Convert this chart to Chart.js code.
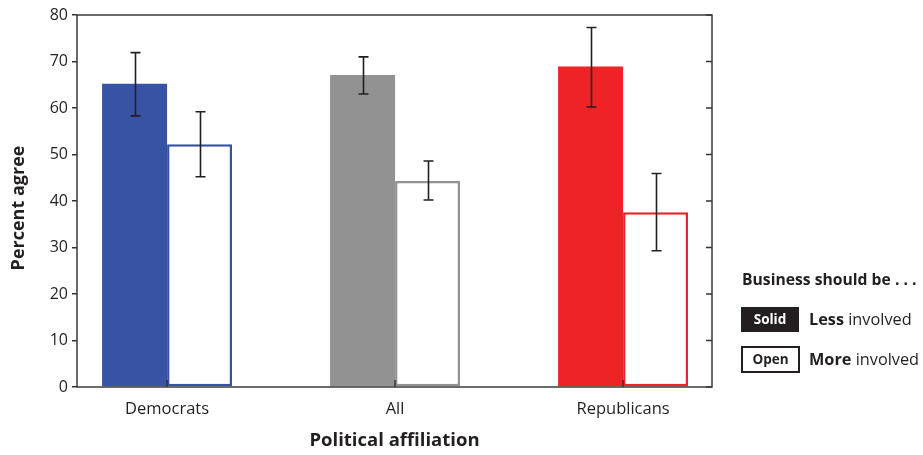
<!DOCTYPE html>
<html>
<head>
<meta charset="utf-8">
<script src="https://cdn.jsdelivr.net/npm/chart.js@4/dist/chart.umd.min.js"></script>
<style>
  html, body { margin: 0; padding: 0; background: #fff; }
  #wrap { position: relative; width: 923px; height: 455px; font-family: "Open Sans", sans-serif; color: #231f20; }
  #c { position: absolute; left: 0; top: 0; }
  .key-title { position: absolute; left: 742px; top: 268px; height: 22px; line-height: 22px; font-size: 15.7px; font-weight: 700; white-space: nowrap; }
  .swatch { position: absolute; left: 741px; box-sizing: border-box; font-size: 13.5px; font-weight: 700; text-align: center; }
  .swatch.solid { top: 307px; width: 58px; height: 25px; line-height: 25px; background: #231f20; color: #fff; }
  .swatch.open { top: 346px; width: 59px; height: 27px; line-height: 23px; border: 2px solid #231f20; background: #fff; color: #231f20; }
  .key-text { position: absolute; left: 809px; font-size: 16.3px; white-space: nowrap; }
  .key-text b { font-weight: 700; }
</style>
</head>
<body>
<div id="wrap">
  <canvas id="c" width="923" height="455"></canvas>
  <div class="key-title">Business should be . . .</div>
  <div class="swatch solid">Solid</div>
  <div class="key-text" style="top:308px;line-height:22px;"><b>Less</b> involved</div>
  <div class="swatch open">Open</div>
  <div class="key-text" style="top:348px;line-height:22px;"><b>More</b> involved</div>
</div>
<script>
// Groups along the x axis
const categories = ['Democrats', 'All', 'Republicans'];

// "Business should be less involved" (solid bars), percent agree
const lessInvolved = [65.2, 67.1, 68.9];
const lessLow = [58.3, 63.0, 60.2];
const lessHigh = [71.9, 71.0, 77.3];

// "Business should be more involved" (open bars), percent agree
const moreInvolved = [52.2, 44.3, 37.6];
const moreLow = [45.2, 40.2, 29.3];
const moreHigh = [59.2, 48.6, 45.9];

// Y axis ticks
const yTicks = [0, 10, 20, 30, 40, 50, 60, 70, 80];

const groupColors = ['#3953a4', '#929292', '#ee2325'];
const ink = '#231f20';

const toPoints = vals => vals.map((v, i) => ({ x: i, y: v }));

// Frame, inner tick marks, error bars and the y-axis title
const decorations = {
  id: 'decorations',
  afterDatasetsDraw(chart) {
    const { ctx, chartArea: a, scales: { x, y } } = chart;
    ctx.save();

    // error bars
    const ranges = [[lessLow, lessHigh], [moreLow, moreHigh]];
    ctx.strokeStyle = ink;
    ctx.lineWidth = 1.6;
    ranges.forEach(([lo, hi], d) => {
      chart.getDatasetMeta(d).data.forEach((bar, i) => {
        const cx = Math.round(bar.x) + 0.5;
        const yLo = y.getPixelForValue(lo[i]);
        const yHi = y.getPixelForValue(hi[i]);
        ctx.beginPath();
        ctx.moveTo(cx, yLo); ctx.lineTo(cx, yHi);
        ctx.moveTo(cx - 5, yHi); ctx.lineTo(cx + 5, yHi);
        ctx.moveTo(cx - 5, yLo); ctx.lineTo(cx + 5, yLo);
        ctx.stroke();
      });
    });

    // inner ticks on the right edge
    ctx.strokeStyle = '#333';
    ctx.lineWidth = 1.5;
    yTicks.forEach(v => {
      const py = y.getPixelForValue(v);
      ctx.beginPath();
      ctx.moveTo(a.right - 6, py); ctx.lineTo(a.right, py);
      ctx.stroke();
    });

    // inner ticks at each group centre on the bottom edge
    categories.forEach((c, i) => {
      const px = x.getPixelForValue(i);
      ctx.beginPath();
      ctx.moveTo(px, a.bottom); ctx.lineTo(px, a.bottom - 7);
      ctx.stroke();
    });

    // plot frame
    ctx.strokeStyle = '#3a3a3a';
    ctx.lineWidth = 1.5;
    ctx.strokeRect(a.left, a.top, a.right - a.left, a.bottom - a.top);

    // y-axis title, set slightly below the middle of the plot
    ctx.translate(19, (a.top + a.bottom) / 2 + 7);
    ctx.rotate(-Math.PI / 2);
    ctx.fillStyle = ink;
    ctx.font = 'bold 18px "Open Sans"';
    ctx.textAlign = 'center';
    ctx.textBaseline = 'middle';
    ctx.fillText('Percent agree', 0, 0);
    ctx.restore();
  }
};

new Chart(document.getElementById('c'), {
  type: 'bar',
  data: {
    datasets: [
      {
        label: 'Less involved',
        data: toPoints(lessInvolved),
        backgroundColor: groupColors,
        borderWidth: 0
      },
      {
        label: 'More involved',
        data: toPoints(moreInvolved),
        backgroundColor: '#ffffff',
        borderColor: groupColors,
        borderWidth: 2.5,
        borderSkipped: false
      }
    ]
  },
  options: {
    responsive: false,
    animation: false,
    events: [],
    layout: { padding: { left: 0, top: 15, right: 211, bottom: 0 } },
    categoryPercentage: 0.57,
    barPercentage: 1.0,
    plugins: { legend: { display: false }, tooltip: { enabled: false } },
    scales: {
      x: {
        type: 'linear',
        offset: false,
        min: -0.395,
        max: 2.39,
        afterBuildTicks: s => { s.ticks = categories.map((c, i) => ({ value: i })); },
        afterFit: s => { s.height = 68; },
        grid: { display: false, drawTicks: false, offset: false },
        border: { display: false },
        ticks: {
          padding: 12,
          color: ink,
          font: { family: 'Open Sans', size: 16.5 },
          maxRotation: 0,
          callback: v => categories[v] ?? ''
        },
        title: {
          display: true,
          text: 'Political affiliation',
          color: ink,
          font: { family: 'Open Sans', size: 18.5, weight: 'bold' },
          padding: { top: 0, bottom: 3 }
        }
      },
      y: {
        min: 0,
        max: 80,
        afterBuildTicks: s => { s.ticks = yTicks.map(v => ({ value: v })); },
        afterFit: s => { s.width = 77; },
        grid: { drawOnChartArea: false, drawTicks: true, tickLength: 5, color: '#333', lineWidth: 1.5 },
        border: { display: false },
        ticks: {
          padding: 4,
          color: ink,
          font: { family: 'Open Sans', size: 16 }
        },
        title: { display: false }
      }
    }
  },
  plugins: [decorations]
});
</script>
</body>
</html>
